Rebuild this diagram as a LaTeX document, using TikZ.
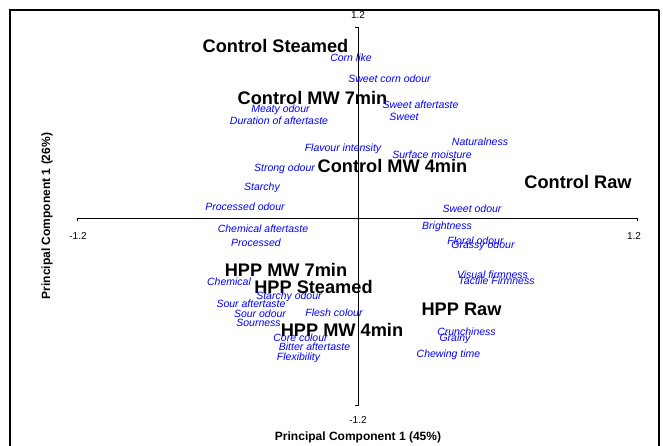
\documentclass[tikz,border=0pt]{standalone}
\usepackage{fontspec}
\setmainfont{Liberation Sans}
\begin{document}
\begin{tikzpicture}[x=1pt,y=-1pt,
  sample/.style={font=\fontsize{18.2}{18}\selectfont\bfseries, inner sep=0pt},
  attr/.style={font=\fontsize{10.5}{10.5}\selectfont\itshape, text=blue, inner sep=0pt},
  tick/.style={font=\fontsize{10}{10}\selectfont, inner sep=0pt},
  axtitle/.style={font=\fontsize{12}{12}\selectfont\bfseries, inner sep=0pt}]
\useasboundingbox (0,0) rectangle (663,446);
\path[draw,line width=1.6pt] (10,446) -- (10,10) -- (659,10);
\path[draw,line width=2.4pt] (659,10) -- (659,446);

\coordinate (xl) at (77,218);
\coordinate (xr) at (637,218);
\coordinate (yt) at (358,27);
\coordinate (yb) at (358,405);
\path[draw,thick] ([yshift=-3pt]xl) -- (xl) -- (xr) -- ([yshift=-3pt]xr);
\path[draw,thick] ([xshift=-3pt]yt) -- (yt) -- (yb) -- ([xshift=-3pt]yb);

\node[tick] (tl) at (78,236) {-1.2};
\node[tick] (tr) at (634,236) {1.2};
\node[tick] (tt) at (358,15) {1.2};
\node[tick] (tb) at (358,420) {-1.2};
\node[axtitle] (xtitle) at (358,437) {Principal Component 1 (45\%)};
\node[axtitle,rotate=90] (ytitle) at (47,216) {Principal Component 1 (26\%)};

% samples
\node[sample] (ctrlsteam) at (275.5,46) {Control Steamed};
\node[sample] (ctrlmw7) at (312.5,98) {Control MW 7min};
\node[sample] (ctrlmw4) at (392.5,166) {Control MW 4min};
\node[sample] (ctrlraw) at (578,182) {Control Raw};
\node[sample] (hppmw7) at (286,270) {HPP MW 7min};
\node[sample] (hppsteam) at (313.5,287) {HPP Steamed};
\node[sample] (hppraw) at (461.5,309) {HPP Raw};
\node[sample] (hppmw4) at (342,330) {HPP MW 4min};

% attributes
\node[attr] (cornlike) at (351,58) {Corn like};
\node[attr] (sweetcorn) at (389.5,79) {Sweet corn odour};
\node[attr] (sweetafter) at (420.5,105) {Sweet aftertaste};
\node[attr] (sweet) at (404,117) {Sweet};
\node[attr] (meaty) at (280.5,110) {Meaty odour};
\node[attr] (duration) at (279,121) {Duration of aftertaste};
\node[attr] (natural) at (480,142) {Naturalness};
\node[attr] (flavour) at (343,149) {Flavour intensity};
\node[attr] (surface) at (432,155) {Surface moisture};
\node[attr] (strong) at (284.5,169) {Strong odour};
\node[attr] (starchy) at (262,188) {Starchy};
\node[attr] (procodour) at (245,207) {Processed odour};
\node[attr] (sweetodour) at (472,209) {Sweet odour};
\node[attr] (chemafter) at (263,229) {Chemical aftertaste};
\node[attr] (bright) at (447,227) {Brightness};
\node[attr] (processed) at (256,243) {Processed};
\node[attr] (floral) at (475.5,241) {Floral odour};
\node[attr] (grassy) at (483,246) {Grassy odour};
\node[attr] (chemical) at (229,282) {Chemical};
\node[attr] (visual) at (492.5,275) {Visual firmness};
\node[attr] (tactile) at (496.5,281) {Tactile Firmness};
\node[attr] (starchyodour) at (289,297) {Starchy odour};
\node[attr] (sourafter) at (251,304) {Sour aftertaste};
\node[attr] (sourodour) at (260,314) {Sour odour};
\node[attr] (flesh) at (334,313) {Flesh colour};
\node[attr] (sourness) at (258.5,323) {Sourness};
\node[attr] (core) at (300.5,338) {Core colour};
\node[attr] (crunch) at (466.5,332) {Crunchiness};
\node[attr] (bitter) at (314.5,347) {Bitter aftertaste};
\node[attr] (grainy) at (455,339) {Grainy};
\node[attr] (flex) at (298.5,358) {Flexibility};
\node[attr] (chewing) at (448.5,355) {Chewing time};
\end{tikzpicture}
\end{document}
